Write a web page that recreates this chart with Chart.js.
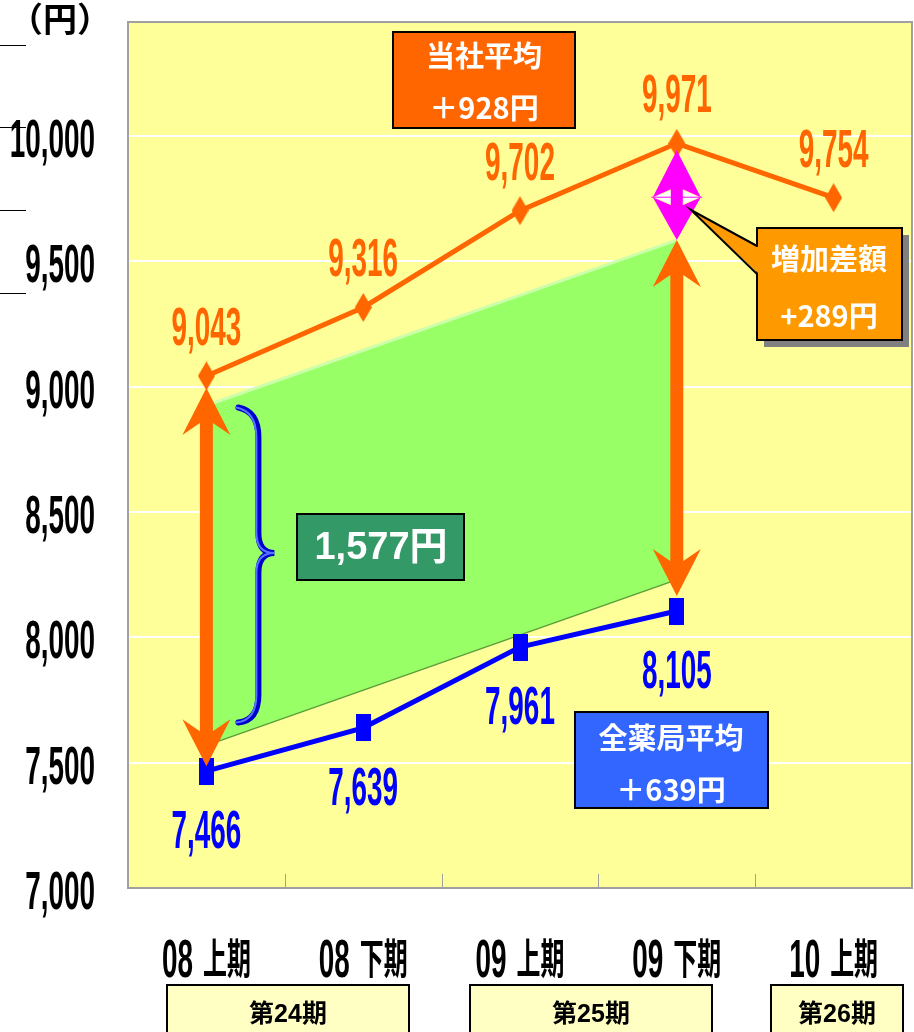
<!DOCTYPE html>
<html><head><meta charset="utf-8">
<script src="https://cdn.jsdelivr.net/npm/chart.js@4.4.1/dist/chart.umd.min.js"></script>
<style>html,body{margin:0;padding:0;background:#fff;overflow:hidden}canvas{display:block}</style>
</head><body>
<canvas id="c" width="914" height="1032"></canvas>
<script>
// ---- data ----
const categories = ['08 上期', '08 下期', '09 上期', '09 下期', '10 上期'];
const companyAvg = [9043, 9316, 9702, 9971, 9754];      // 当社平均
const nationalAvg = [7466, 7639, 7961, 8105, null];     // 全薬局平均
const bandTop = [{x: '08 上期', y: 8925}, {x: '09 下期', y: 9585}];
const bandBottom = [{x: '08 上期', y: 7572}, {x: '09 下期', y: 8233}];
const yTickValues = [7000, 7500, 8000, 8500, 9000, 9500, 10000];
const yUnit = '（円）';
const periods = ['第24期', '第25期', '第26期'];
const notes = {
  company: ['当社平均', '＋928円'],
  national: ['全薬局平均', '＋639円'],
  gap: '1,577円',
  increase: ['増加差額', '+289円']
};

// ---- styles / layout ----
const ORANGE = '#FF6600', BLUE = '#0000FF';
const DIGIT_FONT = 'bold 53px "Liberation Sans", Arial, sans-serif';
const DIGIT_SX = 0.526;
const KANJI_FONT = 'bold 42px "Noto Sans CJK JP", sans-serif';
const KANJI_SX = 0.57;
const periodBoxes = [[167, 409], [470, 712], [771, 903]];

function makeMarker(w, h, color, shape) {
  const c = document.createElement('canvas');
  c.width = w; c.height = h;
  const g = c.getContext('2d');
  g.fillStyle = color;
  if (shape === 'diamond') {
    g.beginPath(); g.moveTo(w / 2, 0); g.lineTo(w, h / 2); g.lineTo(w / 2, h); g.lineTo(0, h / 2); g.closePath(); g.fill();
  } else {
    g.fillRect(0, 0, w, h);
  }
  return c;
}
const diamondImg = makeMarker(17, 29, ORANGE, 'diamond');
const squareImg = makeMarker(15, 27, BLUE, 'rect');

function fmt(v) { return v.toLocaleString('en-US'); }

function stretchText(ctx, text, x, y, font, sx, align, color) {
  ctx.save();
  ctx.font = font; ctx.fillStyle = color;
  ctx.translate(x, y); ctx.scale(sx, 1);
  ctx.textAlign = align; ctx.textBaseline = 'alphabetic';
  ctx.fillText(text, 0, 0);
  ctx.restore();
}

function mixedLabel(ctx, label, cx, baseline) {
  const parts = label.split(' ');
  ctx.save();
  ctx.font = DIGIT_FONT; const w1 = ctx.measureText(parts[0]).width * DIGIT_SX;
  ctx.font = KANJI_FONT; const w2 = ctx.measureText(parts[1]).width * KANJI_SX;
  ctx.restore();
  const gap = 10;
  const start = cx - (w1 + gap + w2) / 2;
  stretchText(ctx, parts[0], start, baseline, DIGIT_FONT, DIGIT_SX, 'left', '#000');
  stretchText(ctx, parts[1], start + w1 + gap, baseline - 3, KANJI_FONT, KANJI_SX, 'left', '#000');
}

function vArrow(ctx, x, yTop, yBot, color, shaftW, headW, headH, notch) {
  ctx.fillStyle = color;
  ctx.beginPath();
  ctx.moveTo(x, yTop);
  ctx.lineTo(x + headW / 2, yTop + headH);
  ctx.lineTo(x + shaftW / 2, yTop + headH - notch);
  ctx.lineTo(x + shaftW / 2, yBot - headH + notch);
  ctx.lineTo(x + headW / 2, yBot - headH);
  ctx.lineTo(x, yBot);
  ctx.lineTo(x - headW / 2, yBot - headH);
  ctx.lineTo(x - shaftW / 2, yBot - headH + notch);
  ctx.lineTo(x - shaftW / 2, yTop + headH - notch);
  ctx.lineTo(x - headW / 2, yTop + headH);
  ctx.closePath();
  ctx.fill();
}

function box(ctx, x, y, w, h, fill) {
  ctx.fillStyle = fill; ctx.fillRect(x, y, w, h);
  ctx.strokeStyle = '#000'; ctx.lineWidth = 2; ctx.strokeRect(x, y, w, h);
}
function centerText(ctx, text, x, y, font, color) {
  ctx.font = font; ctx.fillStyle = color; ctx.textAlign = 'center'; ctx.textBaseline = 'middle';
  ctx.fillText(text, x, y);
}

const decorPlugin = {
  id: 'decor',
  beforeDraw(chart) {
    const {ctx, chartArea: a} = chart;
    ctx.save();
    ctx.fillStyle = '#fff'; ctx.fillRect(0, 0, chart.width, chart.height);
    ctx.fillStyle = '#FFFF99'; ctx.fillRect(a.left, a.top, a.right - a.left, a.bottom - a.top);
    ctx.restore();
  },
  afterDatasetsDraw(chart) {
    const {ctx} = chart;
    const xs = chart.scales.x, ys = chart.scales.y;
    const px = i => xs.getPixelForValue(i);
    const py = v => ys.getPixelForValue(v);
    ctx.save();

    // brace
    const bx = px(0);
    const bTop = py(bandTop[0].y) + 2, bBot = py(7660);
    const bMid = (bTop + bBot) / 2 - 12;
    const drawBrace = (dx, color, lw) => {
      ctx.strokeStyle = color; ctx.lineWidth = lw; ctx.lineCap = 'round';
      ctx.beginPath();
      ctx.moveTo(bx + 32 + dx, bTop);
      ctx.quadraticCurveTo(bx + 52 + dx, bTop + 4, bx + 52 + dx, bTop + 30);
      ctx.lineTo(bx + 52 + dx, bMid - 20);
      ctx.quadraticCurveTo(bx + 52 + dx, bMid, bx + 68, bMid);
      ctx.quadraticCurveTo(bx + 52 + dx, bMid, bx + 52 + dx, bMid + 20);
      ctx.lineTo(bx + 52 + dx, bBot - 28);
      ctx.quadraticCurveTo(bx + 52 + dx, bBot - 2, bx + 32 + dx, bBot);
      ctx.stroke();
    };
    drawBrace(0, '#0000CC', 6);
    drawBrace(-2, '#5577FF', 2);

    // orange double arrows
    vArrow(ctx, px(0), py(companyAvg[0]) + 12, py(nationalAvg[0]) - 5, ORANGE, 13, 48, 47, 12);
    vArrow(ctx, px(3), py(bandTop[1].y), py(nationalAvg[3]) - 15, ORANGE, 13, 48, 47, 12);

    // magenta increase arrow
    const mx = px(3), mTop = py(companyAvg[3]) + 7, mBot = py(bandTop[1].y);
    const mMid = (mTop + mBot) / 2 + 2;
    ctx.fillStyle = '#fff';
    ctx.beginPath(); ctx.moveTo(mx - 23, mMid); ctx.lineTo(mx, mMid - 9); ctx.lineTo(mx + 23, mMid); ctx.lineTo(mx, mMid + 9); ctx.closePath(); ctx.fill();
    ctx.fillStyle = '#FF00FF';
    ctx.beginPath();
    ctx.moveTo(mx, mTop); ctx.lineTo(mx + 24, mMid); ctx.lineTo(mx + 6, mMid - 8); ctx.lineTo(mx + 6, mMid + 8);
    ctx.lineTo(mx + 24, mMid); ctx.lineTo(mx, mBot); ctx.lineTo(mx - 24, mMid); ctx.lineTo(mx - 6, mMid + 8);
    ctx.lineTo(mx - 6, mMid - 8); ctx.lineTo(mx - 24, mMid); ctx.closePath(); ctx.fill();
    ctx.strokeStyle = '#FF00FF'; ctx.lineWidth = 1;
    ctx.beginPath(); ctx.moveTo(mx - 25, mMid); ctx.lineTo(mx + 25, mMid); ctx.stroke();

    // boxes
    box(ctx, 393, 32, 182, 96, ORANGE);
    centerText(ctx, notes.company[0], 484, 56, 'bold 29px "Noto Sans CJK JP", sans-serif', '#fff');
    centerText(ctx, notes.company[1], 484, 108, 'bold 29px "Noto Sans CJK JP", sans-serif', '#fff');

    box(ctx, 575, 712, 193, 96, '#3366FF');
    centerText(ctx, notes.national[0], 671, 738, 'bold 29px "Noto Sans CJK JP", sans-serif', '#fff');
    centerText(ctx, notes.national[1], 671, 790, 'bold 29px "Noto Sans CJK JP", sans-serif', '#fff');

    box(ctx, 297, 514, 167, 66, '#339966');
    centerText(ctx, notes.gap, 381, 549, 'bold 38px "Liberation Sans", "Noto Sans CJK JP", sans-serif', '#fff');

    // callout
    ctx.fillStyle = '#808080'; ctx.fillRect(764, 235, 145, 112);
    box(ctx, 757, 228, 145, 112, '#FF9900');
    ctx.fillStyle = '#FF9900';
    ctx.beginPath(); ctx.moveTo(759, 246); ctx.lineTo(691, 210); ctx.lineTo(759, 274); ctx.closePath(); ctx.fill();
    ctx.strokeStyle = '#000'; ctx.lineWidth = 2;
    ctx.beginPath(); ctx.moveTo(757, 246); ctx.lineTo(691, 210); ctx.lineTo(757, 274); ctx.stroke();
    centerText(ctx, notes.increase[0], 829, 259, 'bold 29px "Noto Sans CJK JP", sans-serif', '#fff');
    centerText(ctx, notes.increase[1], 829, 316, 'bold 29px "Noto Sans CJK JP", sans-serif', '#fff');

    // data labels
    companyAvg.forEach((v, i) => stretchText(ctx, fmt(v), px(i), py(v) - 31, DIGIT_FONT, DIGIT_SX, 'center', ORANGE));
    nationalAvg.forEach((v, i) => { if (v != null) stretchText(ctx, fmt(v), px(i), py(v) + 77, DIGIT_FONT, DIGIT_SX, 'center', BLUE); });

    ctx.restore();
  },
  afterDraw(chart) {
    const {ctx, chartArea: a} = chart;
    const xs = chart.scales.x, ys = chart.scales.y;
    ctx.save();
    // plot border
    ctx.strokeStyle = '#A0A0A0'; ctx.lineWidth = 2;
    ctx.strokeRect(a.left, a.top, a.right - a.left, a.bottom - a.top);
    // inner category ticks
    ctx.lineWidth = 1; ctx.strokeStyle = '#A0A0A0';
    for (let i = 0; i < categories.length - 1; i++) {
      const x = Math.round((xs.getPixelForValue(i) + xs.getPixelForValue(i + 1)) / 2) + 0.5;
      ctx.beginPath(); ctx.moveTo(x, a.bottom - 14); ctx.lineTo(x, a.bottom); ctx.stroke();
    }
    // y tick labels
    ys.ticks.forEach(t => stretchText(ctx, fmt(t.value), 95, ys.getPixelForValue(t.value) + 21, DIGIT_FONT, DIGIT_SX, 'right', '#000'));
    ctx.font = 'bold 34px "Noto Sans CJK JP", sans-serif'; ctx.fillStyle = '#000';
    ctx.textAlign = 'center'; ctx.textBaseline = 'middle';
    ctx.fillText(yUnit, 60, 19);
    // stray left rules
    ctx.strokeStyle = '#000'; ctx.lineWidth = 1;
    [45, 127, 210, 293].forEach(y => { ctx.beginPath(); ctx.moveTo(0, y + 0.5); ctx.lineTo(26, y + 0.5); ctx.stroke(); });
    // x labels
    categories.forEach((c, i) => mixedLabel(ctx, c, xs.getPixelForValue(i), 977));
    // period boxes
    periods.forEach((p, i) => {
      const [l, r] = periodBoxes[i];
      ctx.fillStyle = '#FFFFC4'; ctx.fillRect(l, 985, r - l, 60);
      ctx.strokeStyle = '#000'; ctx.lineWidth = 2; ctx.strokeRect(l, 985, r - l, 60);
      centerText(ctx, p, (l + r) / 2, 1015, 'bold 25px "Liberation Sans", "Noto Sans CJK JP", sans-serif', '#000');
    });
    ctx.restore();
  }
};

new Chart(document.getElementById('c'), {
  type: 'line',
  data: {
    labels: categories,
    datasets: [
      {label: '当社平均', data: companyAvg, borderColor: ORANGE, backgroundColor: ORANGE, borderWidth: 5,
       pointStyle: diamondImg, pointRadius: 10, fill: false, order: 1},
      {label: '全薬局平均', data: nationalAvg, borderColor: BLUE, backgroundColor: BLUE, borderWidth: 5,
       pointStyle: squareImg, pointRadius: 10, fill: false, order: 2},
      {label: 'band top', data: bandTop, borderColor: '#CCFFAA', borderWidth: 3, pointRadius: 0,
       fill: '+1', backgroundColor: '#99FF66', order: 5},
      {label: 'band bottom', data: bandBottom, borderColor: '#5A9E3A', borderWidth: 3, pointRadius: 0,
       fill: false, order: 6}
    ]
  },
  options: {
    responsive: false, animation: false, devicePixelRatio: 1, events: [],
    layout: {autoPadding: false, padding: {left: 0, top: 22, right: 2, bottom: 144}},
    plugins: {legend: {display: false}, tooltip: {enabled: false}},
    scales: {
      x: {type: 'category', offset: true, grid: {display: false}, border: {display: false},
          ticks: {display: false}, afterFit(s) { s.height = 0; }},
      y: {min: 7000, max: 10455,
          afterBuildTicks(s) { s.ticks = yTickValues.map(v => ({value: v})); },
          ticks: {display: false},
          grid: {color: '#FFFFFF', lineWidth: 2, drawTicks: false},
          border: {display: false},
          afterFit(s) { s.width = 128; }}
    }
  },
  plugins: [decorPlugin]
});
</script>
</body></html>
